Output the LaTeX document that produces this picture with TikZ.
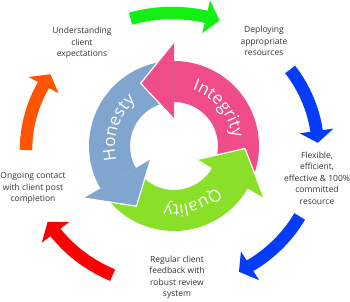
\documentclass[tikz,border=0pt]{standalone}
\usepackage{fontspec}
\setmainfont{Open Sans}
\setsansfont{Open Sans}
\usepackage{xcolor}
\usetikzlibrary{decorations.text}

\definecolor{intpink}{RGB}{241,76,138}
\definecolor{honblue}{RGB}{128,165,207}
\definecolor{qualgreen}{RGB}{138,224,40}
\definecolor{stepgreen}{RGB}{20,240,20}
\definecolor{stepblue}{RGB}{5,60,250}
\definecolor{stepred}{RGB}{250,0,0}
\definecolor{steporange}{RGB}{255,85,0}
\definecolor{labelgray}{RGB}{51,51,51}

\begin{document}
\begin{tikzpicture}[x=1pt, y=1pt,
  lbl/.style={align=center, font=\fontsize{8.5}{11.5}\selectfont, text=labelgray, inner sep=0pt},
  outband/.style={line width=12.5pt},
  headside/.style={draw=white, line width=1.2pt}]
  \useasboundingbox (0,0) rectangle (350,301);

  % outer ring of steps, clockwise
  \begin{scope}[shift={(172,151)}]
    \foreach \col/\ta/\hb/\tp in {stepgreen/106.5/76.5/71, stepblue/36/8/3,
        stepblue/-29/-57.7/-62.7, stepred/246/217/211.6, steporange/180/151.7/146.4} {
      \draw[outband, \col] (\ta:146pt and 137pt)
        arc[start angle=\ta, end angle=\hb-1.5, x radius=146pt, y radius=137pt];
      \fill[\col] (\hb:129pt and 120pt) -- (\tp:146pt and 137pt) -- (\hb:163pt and 154pt) -- cycle;
    }
  \end{scope}

  % inner cycle of values
  \begin{scope}[shift={(174,155)}]
    \foreach \col/\b [evaluate=\b as \t using \b-120] in {intpink/90, honblue/210, qualgreen/330} {
      \fill[\col] (\t:85pt) arc[start angle=\t, end angle=\b, radius=85pt]
        -- (\b:44pt) arc[start angle=\b, end angle=\t, radius=44pt] -- cycle;
    }
    \foreach \col/\b in {intpink/90, honblue/210, qualgreen/330} {
      \fill[\col] (\b:27pt) -- (\b+28:71pt) -- (\b:104pt) -- cycle;
      \draw[headside] (\b:27pt) -- (\b+28:71pt) -- (\b:104pt);
    }

    \path[decorate, decoration={text along path, text align=center, text color=white,
        text={|\fontsize{17}{17}\selectfont|Integrity}}]
      (100:59pt) arc[start angle=100, end angle=-20, radius=59pt];
    \path[decorate, decoration={text along path, text align=center, text color=white,
        text={|\fontsize{17}{17}\selectfont|Honesty}}]
      (222:59pt) arc[start angle=222, end angle=102, radius=59pt];
    \path[decorate, decoration={text along path, text align=center, text color=white,
        text={|\fontsize{17}{17}\selectfont|Quality}}]
      (348:59pt) arc[start angle=348, end angle=228, radius=59pt];
  \end{scope}

  \node[lbl] (understand) at (82,258) {Understanding\\client\\expectations};
  \node[lbl] (deploy) at (264,260) {Deploying\\appropriate\\resources};
  \node[lbl] (flexible) at (317,123) {Flexible,\\efficient,\\effective \& 100\%\\committed\\resource};
  \node[lbl] (feedback) at (177,23.5) {Regular client\\feedback with\\robust review\\system};
  \node[lbl] (contact) at (33,113) {Ongoing contact\\with client post\\completion};
\end{tikzpicture}
\end{document}
